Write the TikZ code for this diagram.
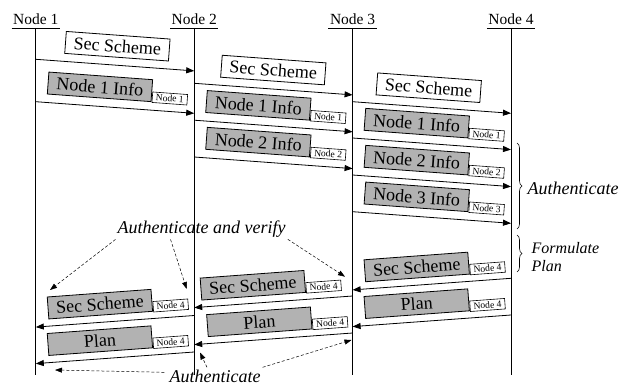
\documentclass[tikz,border=0pt]{standalone}
\usepackage{fontspec}
\setmainfont{Liberation Serif}
\usetikzlibrary{arrows.meta,calc,decorations.pathreplacing}

% gray message: start, end, angle, along, up, text, tag text, name
\newcommand\gmsg[8]{%
  \draw[msg] (#1) -- (#2);
  \begin{scope}[shift={($(#1)!0.5!(#2)$)}, rotate=#3, transform shape]
    \node[gbox] (#8b) at (#4,-#5) {#6};
    \node[tagbox] (#8t) at ({#4+70.5},{-#5+6.5}) {#7};
  \end{scope}}
% white message: start, end, angle, along, up, name
\newcommand\wmsg[6]{%
  \draw[msg] (#1) -- (#2);
  \begin{scope}[shift={($(#1)!0.5!(#2)$)}, rotate=#3, transform shape]
    \node[wbox] (#6b) at (#4,-#5) {Sec Scheme};
  \end{scope}}

\begin{document}
\begin{tikzpicture}[x=1pt,y=-1pt,
  hdr/.style={anchor=south, inner xsep=0pt, inner ysep=3pt, text depth=0pt, minimum width=48pt, font=\fontsize{15.5}{18}\selectfont},
  life/.style={line width=0.9pt},
  msg/.style={line width=0.8pt, -{Triangle[length=8pt,width=6pt]}},
  wbox/.style={draw, line width=0.8pt, fill=white, minimum width=104pt, minimum height=22pt, inner sep=0pt, font=\fontsize{18}{20}\selectfont},
  gbox/.style={wbox, fill=gray!60},
  tagbox/.style={draw, line width=0.6pt, fill=white, minimum width=35pt, minimum height=10.5pt, inner sep=0pt, font=\fontsize{9.6}{10}\selectfont},
  note/.style={font=\itshape\fontsize{18}{20}\selectfont},
  hint/.style={line width=0.5pt, dash pattern=on 3pt off 2pt, -{Triangle[length=7pt,width=5pt]}},
  brc/.style={decorate, decoration={brace, amplitude=5pt}, line width=0.6pt}]

\fill[white] (0,0) rectangle (621,385);
\useasboundingbox (0,0) rectangle (621,385);

% headers and lifelines
\node[hdr] (H1) at (35.8,28) {Node 1};
\node[hdr] (H2) at (194.2,28) {Node 2};
\node[hdr] (H3) at (352.6,28) {Node 3};
\node[hdr] (H4) at (511,28) {Node 4};
\coordinate (E1) at (35.8,375);
\coordinate (E2) at (194.2,375);
\coordinate (E3) at (352.6,375);
\coordinate (E4) at (511,375);
\foreach \i in {1,2,3,4}{
  \draw[life] (H\i.south west) -- (H\i.south east);
  \draw[life] (H\i.south) -- (E\i);
}

% message end points
\coordinate (m1s) at (35.8,59.3);   \coordinate (m1e) at (194.2,70.9);
\coordinate (m2s) at (35.8,101.7);  \coordinate (m2e) at (194.2,113.3);
\coordinate (m3s) at (194.2,83.3);  \coordinate (m3e) at (352.6,94.9);
\coordinate (m4s) at (194.2,120.2); \coordinate (m4e) at (352.6,131.8);
\coordinate (m5s) at (194.2,157);   \coordinate (m5e) at (352.6,168.6);
\coordinate (m6s) at (352.6,101.7); \coordinate (m6e) at (511,113.3);
\coordinate (m7s) at (352.6,138);   \coordinate (m7e) at (511,149.6);
\coordinate (m8s) at (352.6,175);   \coordinate (m8e) at (511,186.6);
\coordinate (m9s) at (352.6,211.7); \coordinate (m9e) at (511,223.3);
\coordinate (r1s) at (511,278.3);   \coordinate (r1e) at (352.6,289.9);
\coordinate (r2s) at (511,315);     \coordinate (r2e) at (352.6,326.6);
\coordinate (r3s) at (352.6,296);   \coordinate (r3e) at (194.2,307.6);
\coordinate (r4s) at (352.6,333);   \coordinate (r4e) at (194.2,344.6);
\coordinate (r5s) at (194.2,315.5); \coordinate (r5e) at (35.8,327.1);
\coordinate (r6s) at (194.2,352);   \coordinate (r6e) at (35.8,363.6);

% forward messages
\wmsg{m1s}{m1e}{-4.2}{1}{19}{m1}
\gmsg{m2s}{m2e}{-4.2}{-16.5}{19.5}{Node 1 Info}{Node 1}{m2}
\wmsg{m3s}{m3e}{-4.2}{-1.5}{19}{m3}
\gmsg{m4s}{m4e}{-4.2}{-16.5}{19.5}{Node 1 Info}{Node 1}{m4}
\gmsg{m5s}{m5e}{-4.2}{-16.5}{19.5}{Node 2 Info}{Node 2}{m5}
\wmsg{m6s}{m6e}{-4.2}{-4.5}{19.5}{m6}
\gmsg{m7s}{m7e}{-4.2}{-16.5}{19.5}{Node 1 Info}{Node 1}{m7}
\gmsg{m8s}{m8e}{-4.2}{-16.5}{19.5}{Node 2 Info}{Node 2}{m8}
\gmsg{m9s}{m9e}{-4.2}{-16.5}{19.5}{Node 3 Info}{Node 3}{m9}

% return messages
\gmsg{r1s}{r1e}{4.2}{-13.8}{18.2}{Sec Scheme}{Node 4}{r1}
\gmsg{r2s}{r2e}{4.2}{-13.8}{18.2}{Plan}{Node 4}{r2}
\gmsg{r3s}{r3e}{4.2}{-19.3}{18}{Sec Scheme}{Node 4}{r3}
\gmsg{r4s}{r4e}{4.2}{-12.8}{18}{Plan}{Node 4}{r4}
\gmsg{r5s}{r5e}{4.2}{-13.8}{18.2}{Sec Scheme}{Node 4}{r5}
\gmsg{r6s}{r6e}{4.2}{-13.8}{18.2}{Plan}{Node 4}{r6}

% braces
\coordinate (ba1) at (517,143); \coordinate (ba2) at (517,229);
\draw[brc] (ba1) -- (ba2);
\node[note, anchor=base west, inner sep=0pt] (AuR) at (527.5,194.5) {Authenticate};
\coordinate (bf1) at (517,235); \coordinate (bf2) at (517,272);
\draw[brc] (bf1) -- (bf2);
\node[font=\itshape\fontsize{16}{18.4}\selectfont, align=left, anchor=west, inner sep=0pt] (FP) at (531.5,257) {Formulate\\Plan};

% annotations
\node[note, anchor=base, inner sep=2pt] (AV) at (201.7,233.3) {Authenticate and verify};
\coordinate (av1) at (50,290);
\coordinate (av2) at (186.7,289);
\coordinate (av3) at (345,276.7);
\draw[hint] (AV.south west) -- (av1);
\draw[hint] ($(AV.south west)+(55,0)$) -- (av2);
\draw[hint] (AV.south east) -- (av3);

\node[note, anchor=base, inner sep=2pt] (AB) at (215,382) {Authenticate};
\coordinate (ab1) at (55,370);
\coordinate (ab2) at (200,352.5);
\coordinate (ab3) at (351.5,340);
\draw[hint] ($(AB.north west)+(-3,5)$) -- (ab1);
\draw[hint] ($(AB.north)+(-8,0)$) -- (ab2);
\draw[hint] (AB.north east) -- (ab3);
\end{tikzpicture}
\end{document}
